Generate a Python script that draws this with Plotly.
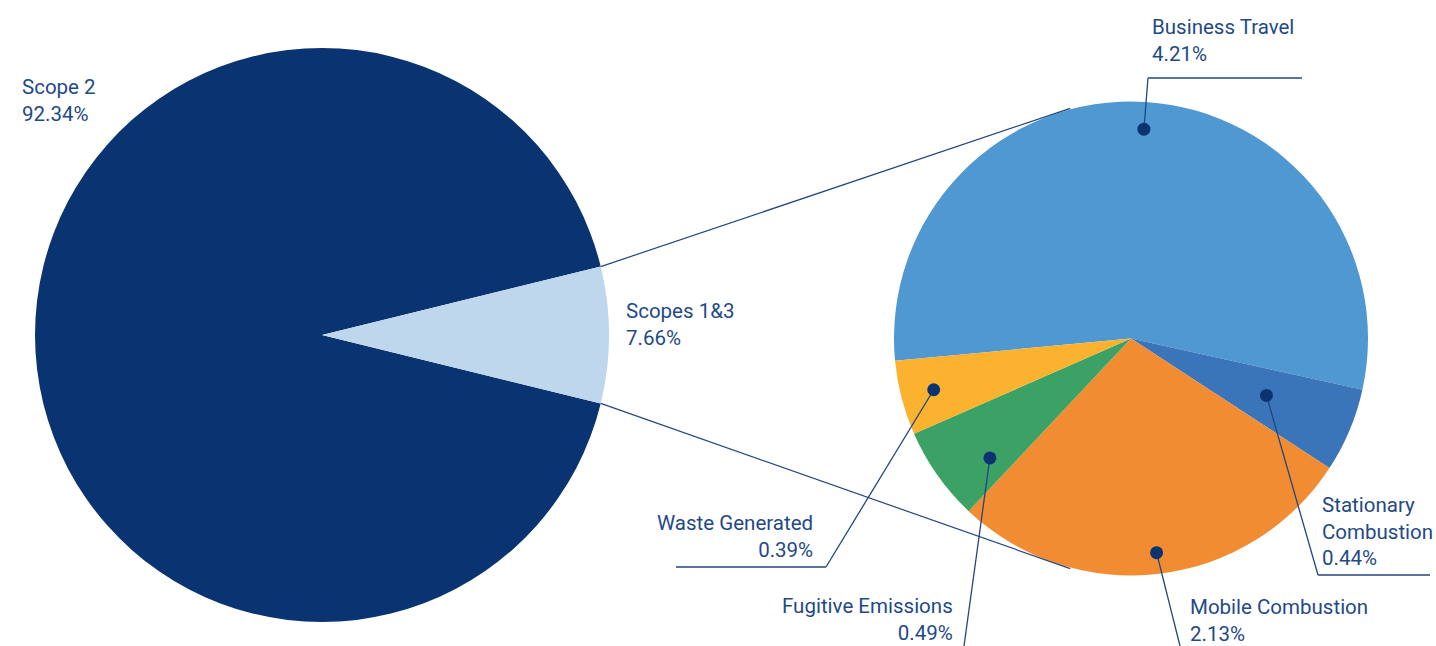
import math
import plotly.graph_objects as go

# ---------------- data ----------------
main_labels = ["Scope 2", "Scopes 1&3"]
main_values = [92.34, 7.66]

sub_labels = ["Business Travel", "Stationary Combustion", "Mobile Combustion",
              "Fugitive Emissions", "Waste Generated"]
sub_values = [4.21, 0.44, 2.13, 0.49, 0.39]
sub_label_text = ["Business Travel", "Stationary<br>Combustion", "Mobile Combustion",
                  "Fugitive Emissions", "Waste Generated"]

# ---------------- style / layout constants ----------------
W, H = 1436, 646
NAVY = "#0a3471"
TEXT = "#1f4a86"
LINE = "#23467e"
main_colors = ["#0a3471", "#bed7ec"]
sub_colors = ["#4f98d2", "#3a74b9", "#f28c32", "#3ca164", "#fbb22e"]
FONT = "Roboto"
FS = 20.5

# left pie geometry (pixels)
L_CX, L_CY, L_R = 322, 335, 287
# right pie geometry (pixels)
R_CX, R_CY, R_R = 1131, 338.5, 237
R_ROT = 264.6  # clockwise from 12 o'clock where first slice starts

def P(x, y):
    return x / W, 1 - y / H

def dom(cx, cy, r):
    return dict(x=[(cx - r) / W, (cx + r) / W], y=[(H - cy - r) / H, (H - cy + r) / H])

# rotation for left pie: centre the Scopes 1&3 slice at 3 o'clock
main_total = sum(main_values)
small_span = 360 * main_values[1] / main_total
L_ROT = 90 + small_span / 2

fig = go.Figure()
fig.add_trace(go.Pie(
    labels=main_labels, values=main_values, sort=False, direction="clockwise",
    rotation=L_ROT, domain=dom(L_CX, L_CY, L_R), textinfo="none",
    marker=dict(colors=main_colors, line=dict(width=0)), showlegend=False,
    hoverinfo="label+percent"))
fig.add_trace(go.Pie(
    labels=sub_labels, values=sub_values, sort=False, direction="clockwise",
    rotation=R_ROT, domain=dom(R_CX, R_CY, R_R), textinfo="none",
    marker=dict(colors=sub_colors, line=dict(width=0)), showlegend=False,
    hoverinfo="label+value"))

shapes = []
annotations = []

def seg(pts, width=1.3, color=LINE):
    for (x0, y0), (x1, y1) in zip(pts[:-1], pts[1:]):
        a, b = P(x0, y0)
        c, d = P(x1, y1)
        shapes.append(dict(type="line", xref="paper", yref="paper", x0=a, y0=b, x1=c, y1=d,
                           line=dict(color=color, width=width), layer="above"))

def clock_pt(cx, cy, r, ang):
    t = math.radians(ang)
    return cx + r * math.sin(t), cy - r * math.cos(t)

# connector lines between the two pies
top_start = clock_pt(L_CX, L_CY, L_R, 90 - small_span / 2)
bot_start = clock_pt(L_CX, L_CY, L_R, 90 + small_span / 2)
seg([top_start, clock_pt(R_CX, R_CY, R_R + 1, 345.2)], width=1.2)
seg([bot_start, clock_pt(R_CX, R_CY, R_R + 1, 194.8)], width=1.2)

# dots and leader lines for the secondary pie
sub_total = sum(sub_values)
dot_frac = [0.885, 0.62, 0.91, 0.78, 0.86]
dot_shift = [0, 0, 0, -5, 0]  # small angular nudge of label anchor (degrees)
leaders = [  # elbow / end points relative to label layout
    [(1148, 78), (1302, 78)],
    [(1318, 575), (1430, 575)],
    [(1180, 646)],
    [(964, 646)],
    [(826, 567), (676, 567)],
]
label_pos = [  # (x, y-middle, xanchor, align)
    (1150, 41, "left", "left"),
    (1320, 531, "left", "left"),
    (1188, 620, "left", "left"),
    (955, 619, "right", "right"),
    (815, 536, "right", "right"),
]
cum = 0
for i, v in enumerate(sub_values):
    mid = R_ROT + 360 * (cum + v / 2) / sub_total + dot_shift[i]
    cum += v
    dx, dy = clock_pt(R_CX, R_CY, R_R * dot_frac[i], mid)
    seg([(dx, dy)] + leaders[i])
    a, b = P(dx - 6.5, dy - 6.5)
    c, d = P(dx + 6.5, dy + 6.5)
    shapes.append(dict(type="circle", xref="paper", yref="paper", x0=a, y0=d, x1=c, y1=b,
                       fillcolor=NAVY, line=dict(width=0), layer="above"))
    lx, ly, xa, al = label_pos[i]
    px, py = P(lx, ly)
    annotations.append(dict(x=px, y=py, xref="paper", yref="paper", xanchor=xa, yanchor="middle",
                            align=al, showarrow=False,
                            text=f"{sub_label_text[i]}<br>{v:.2f}%",
                            font=dict(family=FONT, size=FS, color=TEXT)))

# labels for the main pie
for (lx, ly), lab, v in zip([(20, 100), (624, 324)], main_labels, main_values):
    px, py = P(lx, ly)
    annotations.append(dict(x=px, y=py, xref="paper", yref="paper", xanchor="left", yanchor="middle",
                            align="left", showarrow=False, text=f"{lab}<br>{v:.2f}%",
                            font=dict(family=FONT, size=FS, color=TEXT)))

fig.update_layout(
    width=W, height=H, margin=dict(l=0, r=0, t=0, b=0),
    paper_bgcolor="white", plot_bgcolor="white",
    shapes=shapes, annotations=annotations,
    font=dict(family=FONT, color=TEXT),
)
fig.write_html("out.html")
